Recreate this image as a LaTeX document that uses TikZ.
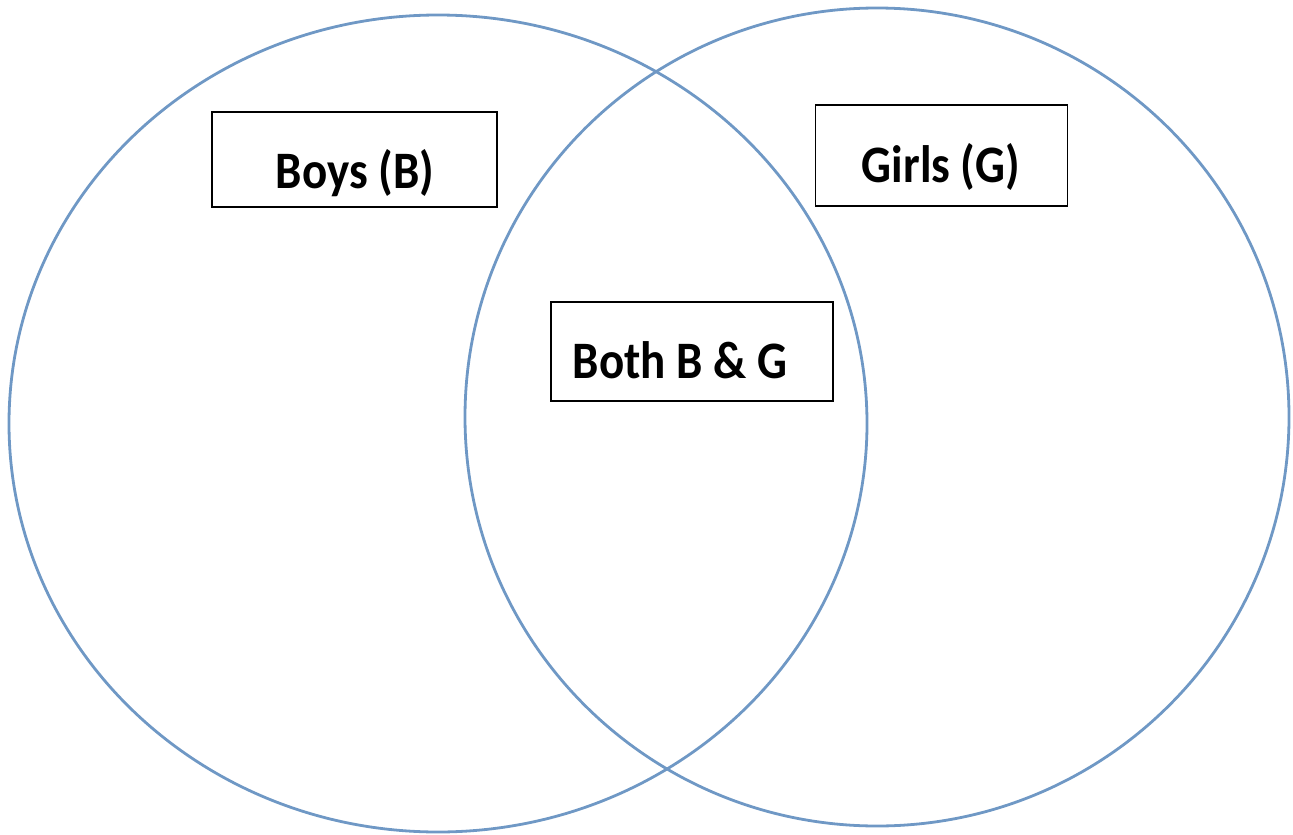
\documentclass[tikz,border=0pt]{standalone}
\usepackage{fontspec}
\setmainfont{Carlito}
\usepackage{tikz}
\usetikzlibrary{positioning}
\usetikzlibrary{shapes.geometric}
\definecolor{setblue}{RGB}{111,152,197}
\newcommand{\tallbox}[1]{\scalebox{1}[1.12]{#1}}
\tikzset{
	every node/.style={outer sep=0pt},
	setc/.style ={ellipse, draw=setblue, line width=2.8pt, inner sep=0pt},
	box/.style = {rectangle, draw=black, line width=1.5pt, inner sep=0pt},
	lbl/.style = {anchor=base, inner sep=0pt, font=\fontsize{47}{56}\selectfont\bfseries}
}

\begin{document}
\begin{tikzpicture}[x=1pt, y=-1pt]
	\useasboundingbox (0,0) rectangle (1293,835);
	% Sets
	\node (setb) [setc, minimum width=858, minimum height=817] at (438,423.5) {};
	\node (setg) [setc, minimum width=824, minimum height=818] at (877,417) {};
	
	% Boxes
	\node (boysbox) [box, minimum width=285, minimum height=95] at (354.5,159.5) {};
	\node (girlsbox) [box, minimum width=252, minimum height=101] at (941.5,155.5) {};
	\node (bothbox) [box, minimum width=282, minimum height=99] at (692,351.5) {};
	
	% Labels
	\node (boys) [lbl] at (355,188) {\tallbox{Boys (B)}};
	\node (girls) [lbl] at (941,182) {\tallbox{Girls (G)}};
	\node (both) [lbl] at (680,378) {\tallbox{Both B \& G}};
\end{tikzpicture}
\end{document}
